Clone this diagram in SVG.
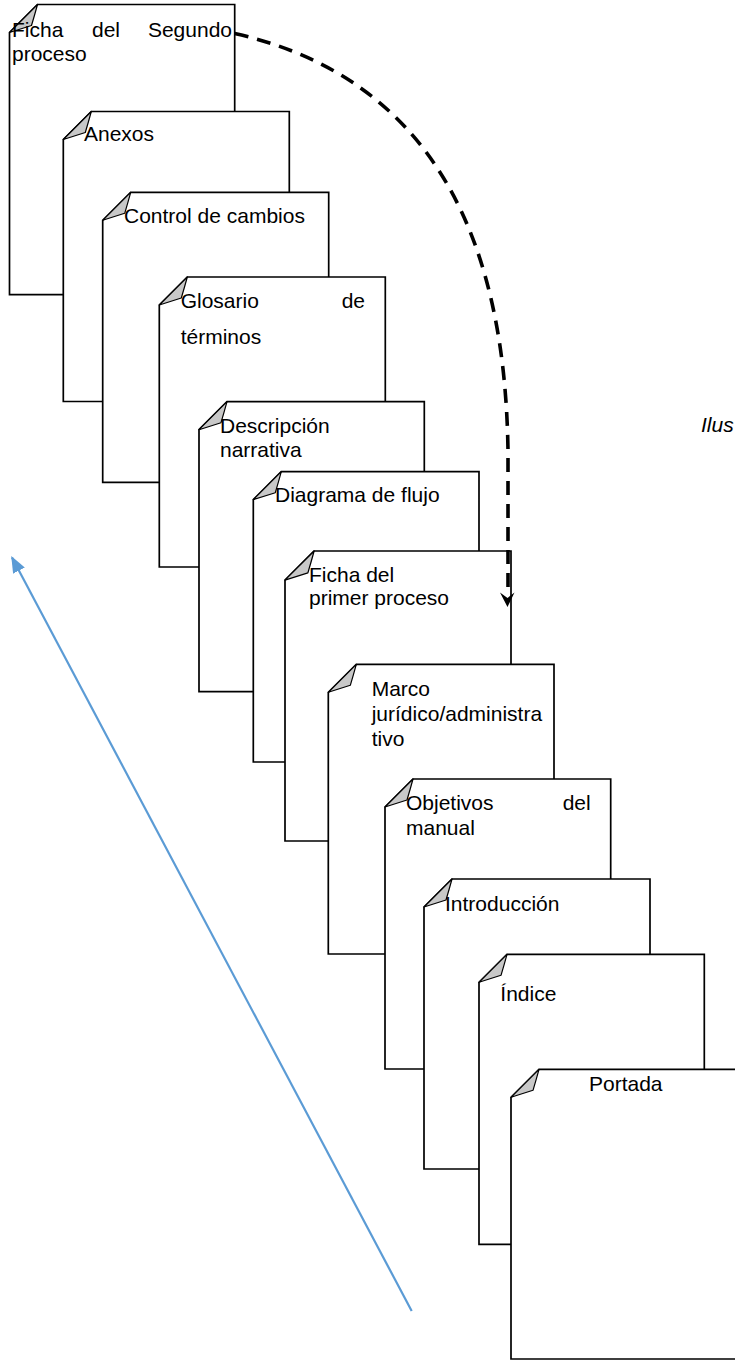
<svg xmlns="http://www.w3.org/2000/svg" xmlns:xlink="http://www.w3.org/1999/xlink" width="735" height="1362" viewBox="0 0 735 1362">
<style>
.page{fill:#fff;stroke:#000;stroke-width:1.7;stroke-linejoin:miter}
.curl{fill:#c8c8c8;stroke:#000;stroke-width:1.2;stroke-linejoin:round}
.t{font-family:"Liberation Sans",Arial,sans-serif;font-size:21px;fill:#000}
.it{font-style:italic}
.dash{fill:none;stroke:#000;stroke-width:3.6;stroke-dasharray:14 9}
.blue{fill:none;stroke:#5b9bd5;stroke-width:2.2}
</style>
<defs>
<path id="curl" class="curl" d="M0,28 L28,0 Q25,11 22,21 Z"/>
<marker id="bluehead" viewBox="0 0 10 8" refX="9" refY="4" markerWidth="7.5" markerHeight="6" markerUnits="strokeWidth" orient="auto">
<path d="M0,0 L10,4 L0,8 Z" fill="#5b9bd5"/>
</marker>
</defs>

<g id="page-ficha-segundo">
<path class="page" d="M37.5,4.5 H234.7 V294.7 H9.5 V32.5 Z"/>
<use xlink:href="#curl" transform="translate(9.5,4.5)"/>
<text class="t" x="12" y="36.5">Ficha</text>
<text class="t" x="92" y="36.5">del</text>
<text class="t" x="232" y="36.5" text-anchor="end">Segundo</text>
<text class="t" x="12" y="61">proceso</text>
</g>

<g id="page-anexos">
<path class="page" d="M91.3,111.5 H289.3 V401.5 H63.3 V139.5 Z"/>
<use xlink:href="#curl" transform="translate(63.3,111.5)"/>
<text class="t" x="84" y="141.3">Anexos</text>
</g>

<g id="page-control">
<path class="page" d="M130.7,192.3 H328.7 V482.3 H102.7 V220.3 Z"/>
<use xlink:href="#curl" transform="translate(102.7,192.3)"/>
<text class="t" x="124" y="222.7">Control de cambios</text>
</g>

<g id="page-glosario">
<path class="page" d="M187.3,277 H385.3 V567 H159.3 V305 Z"/>
<use xlink:href="#curl" transform="translate(159.3,277)"/>
<text class="t" x="180.7" y="308.3">Glosario</text>
<text class="t" x="365" y="308.3" text-anchor="end">de</text>
<text class="t" x="180.7" y="344">términos</text>
</g>

<g id="page-descripcion">
<path class="page" d="M227,401.7 H424.3 V691.7 H199 V429.7 Z"/>
<use xlink:href="#curl" transform="translate(199,401.7)"/>
<text class="t" x="220" y="432.7">Descripción</text>
<text class="t" x="220" y="457.3">narrativa</text>
</g>

<g id="page-diagrama">
<path class="page" d="M281.3,471.7 H479 V762 H253.3 V499.7 Z"/>
<use xlink:href="#curl" transform="translate(253.3,471.7)"/>
<text class="t" x="275" y="502.3">Diagrama de flujo</text>
</g>

<g id="page-ficha-primer">
<path class="page" d="M314,551 H511 V841 H285 V580 Z"/>
<use xlink:href="#curl" transform="translate(285,551) scale(1.04)"/>
<text class="t" x="309" y="581.7">Ficha del</text>
<text class="t" x="309" y="605">primer proceso</text>
</g>

<g id="page-marco">
<path class="page" d="M356.3,664.3 H554 V954 H328.3 V692.3 Z"/>
<use xlink:href="#curl" transform="translate(328.3,664.3)"/>
<text class="t" x="371.7" y="695.7">Marco</text>
<text class="t" x="371.7" y="720.7">jurídico/administra</text>
<text class="t" x="371.7" y="745.7">tivo</text>
</g>

<g id="page-objetivos">
<path class="page" d="M413,779 H610.7 V1069 H385 V807 Z"/>
<use xlink:href="#curl" transform="translate(385,779)"/>
<text class="t" x="406" y="810">Objetivos</text>
<text class="t" x="590.7" y="810" text-anchor="end">del</text>
<text class="t" x="406" y="835">manual</text>
</g>

<g id="page-introduccion">
<path class="page" d="M452,879 H650 V1169 H424 V907 Z"/>
<use xlink:href="#curl" transform="translate(424,879)"/>
<text class="t" x="445" y="910.7">Introducción</text>
</g>

<g id="page-indice">
<path class="page" d="M507,954.3 H704.3 V1244.3 H479 V982.3 Z"/>
<use xlink:href="#curl" transform="translate(479,954.3)"/>
<text class="t" x="500.3" y="1000.7">Índice</text>
</g>

<g id="page-portada">
<path class="page" d="M539,1069.3 H737 V1359 H511 V1097.3 Z"/>
<use xlink:href="#curl" transform="translate(511,1069.3)"/>
<text class="t" x="589" y="1090.7">Portada</text>
</g>

<text class="t it" x="701" y="432">Ilus</text>

<g id="connectors">
<path class="dash" d="M234.7,33.5 C440,80 505,250 508,450 L508,594"/>
<path d="M500,592.5 L507.5,607 L514.5,592.5 L507.5,598 Z" fill="#000"/>
<line class="blue" x1="411.7" y1="1311" x2="12" y2="557.5" marker-end="url(#bluehead)"/>
</g>
</svg>
